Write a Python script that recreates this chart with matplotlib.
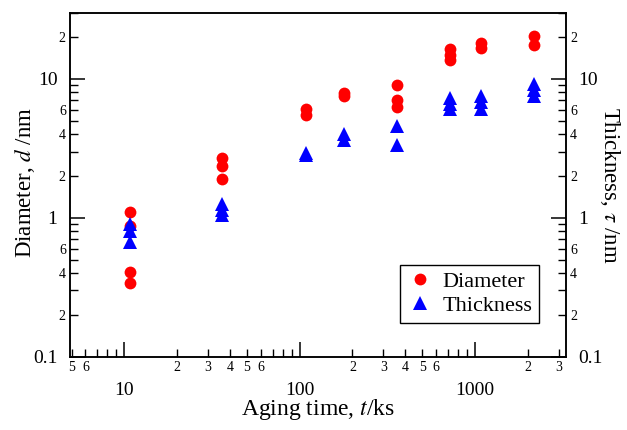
import matplotlib
matplotlib.use("Agg")
import matplotlib.pyplot as plt
from matplotlib.ticker import LogLocator, FuncFormatter
import numpy as np

plt.rcParams['font.family'] = ['Liberation Serif', 'DejaVu Serif']
plt.rcParams['mathtext.fontset'] = 'stix'

# Aging time (ks) for each measured sample
diam_time = [10.8, 10.8, 10.8, 10.8,
             36, 36, 36,
             108, 108,
             180, 180,
             360, 360, 360,
             720, 720, 720,
             1080, 1080,
             2160, 2160]
diam_vals = [1.1, 0.87, 0.41, 0.34,
             2.7, 2.35, 1.9,
             6.1, 5.5,
             7.9, 7.5,
             9.1, 7.0, 6.3,
             16.5, 15.0, 13.8,
             18.2, 16.8,
             20.3, 17.6]

thick_time = [10.8, 10.8, 10.8,
              36, 36, 36,
              108, 108,
              180, 180,
              360, 360,
              720, 720, 720,
              1080, 1080, 1080,
              2160, 2160, 2160]
thick_vals = [0.9, 0.8, 0.67,
              1.25, 1.13, 1.04,
              2.95, 2.85,
              4.0, 3.65,
              4.6, 3.35,
              7.3, 6.6, 6.1,
              7.5, 6.8, 6.1,
              9.2, 8.3, 7.5]

fig = plt.figure(figsize=(6.27, 4.30), dpi=100)
ax = fig.add_axes([70/627, 1-356.7/430, 496/627, 344/430])

ax.plot(diam_time, diam_vals, 'o', color='#ff0000', markersize=8.5,
        markeredgewidth=0, label='Diameter', zorder=3)
ax.plot(thick_time, thick_vals, '^', color='#0000ff', markersize=9.5,
        markeredgewidth=0, label='Thickness', zorder=3)

ax.set_xscale('log')
ax.set_yscale('log')
ax.set_xlim(4.9, 3300)
ax.set_ylim(0.1, 30)

def major_fmt(v, pos):
    if v >= 1:
        return '%d' % round(v)
    return ('%g' % v)

def xminor_fmt(v, pos):
    m = v / 10 ** np.floor(np.log10(v) + 1e-9)
    mi = int(round(m))
    return str(mi) if mi in (2, 3, 4, 5, 6) else ''

def yminor_fmt(v, pos):
    m = v / 10 ** np.floor(np.log10(v) + 1e-9)
    mi = int(round(m))
    return str(mi) if mi in (2, 4, 6) else ''

ax2 = ax.twinx()
ax2.set_yscale('log')
ax2.set_ylim(0.1, 30)

for a in (ax, ax2):
    a.yaxis.set_major_locator(LogLocator(base=10, numticks=10))
    a.yaxis.set_minor_locator(LogLocator(base=10, subs=range(2, 10), numticks=20))
    a.yaxis.set_major_formatter(FuncFormatter(major_fmt))
    a.yaxis.set_minor_formatter(FuncFormatter(yminor_fmt))
    for s in a.spines.values():
        s.set_linewidth(1.1)

ax.xaxis.set_major_locator(LogLocator(base=10, numticks=10))
ax.xaxis.set_minor_locator(LogLocator(base=10, subs=range(2, 10), numticks=20))
ax.xaxis.set_major_formatter(FuncFormatter(major_fmt))
ax.xaxis.set_minor_formatter(FuncFormatter(xminor_fmt))

ax.tick_params(axis='both', which='major', direction='in', length=11, width=1.1,
               labelsize=14, top=False)
ax.tick_params(axis='both', which='minor', direction='in', length=5.5, width=1.0,
               labelsize=10, top=False)
ax.tick_params(axis='x', which='major', pad=18)
ax.tick_params(axis='x', which='minor', pad=3)
ax.tick_params(axis='y', which='major', pad=9, right=False)
ax.tick_params(axis='y', which='minor', pad=3, right=False)
ax2.tick_params(axis='y', which='major', direction='in', length=11, width=1.1,
                labelsize=14, pad=9)
ax2.tick_params(axis='y', which='minor', direction='in', length=5.5, width=1.0,
                labelsize=10, pad=3)

ax.set_xlabel('Aging time, $t$/ks', fontsize=17, va='center')
ax.xaxis.set_label_coords(0.5, (356.7 - 410) / 344)
ax.set_ylabel('Diameter, $d$ /nm', fontsize=16.5, va='center')
ax.yaxis.set_label_coords((25 - 70) / 496, (356.7 - 182.5) / 344)
ax2.set_ylabel(r'Thickness, $\tau$ /nm', fontsize=16.5, rotation=270, va='center')
ax2.yaxis.set_label_coords((610 - 70) / 496, (356.7 - 185) / 344)

leg = ax.legend(loc='lower right', bbox_to_anchor=(1 - 27/496, 34/344),
                borderaxespad=0, fontsize=16, fancybox=False, framealpha=1,
                edgecolor='black', handletextpad=0.4, borderpad=0.3,
                labelspacing=0.15, handlelength=1.2)
leg.get_frame().set_linewidth(1.0)

fig.savefig('out.png', dpi=100)
